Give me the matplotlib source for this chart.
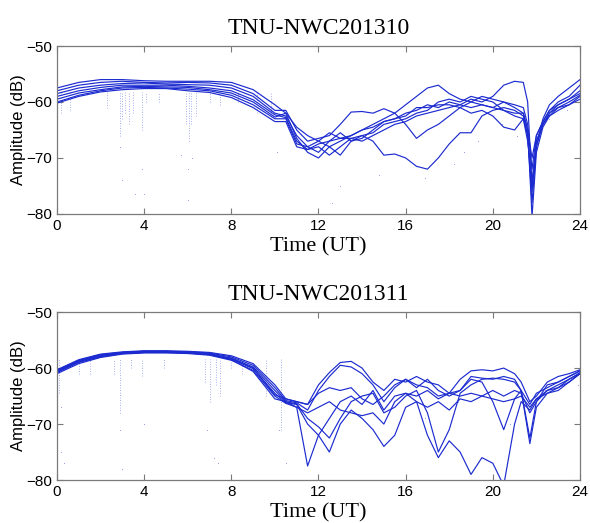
import matplotlib
matplotlib.use("Agg")
import matplotlib.pyplot as plt

# ---------------- data ----------------
# time grid shared by the curves of the upper panel (hours UT)
t_oct = [0, 1, 2, 3, 4, 5, 6, 7, 8, 9, 10,
         10.5, 11, 11.5, 12, 12.5, 13, 13.5, 14, 14.5, 15, 15.5, 16, 16.5,
         17, 17.5, 18, 18.5, 19, 19.5, 20, 20.5, 21,
         21.4, 21.6, 21.8, 22, 22.3, 22.6, 23, 23.5, 24]

oct_1 = [-57.5, -56.5, -56, -56, -56.2, -56.3, -56.3, -56.3, -56.5, -57.8, -60.5,
         -62, -64.5, -66, -67, -65.5, -66.5, -66, -65, -64.5, -63.5, -63, -62, -61.5,
         -60.5, -61, -60, -60.5, -59.5, -60, -59, -57, -56.3,
         -56.5, -60, -75, -68, -63, -60.5, -59, -57.5, -56]
oct_2 = [-58, -57, -56.5, -56.3, -56.5, -56.6, -56.5, -56.6, -57, -58.5, -61.5,
         -61.5, -65, -67, -66.5, -66, -64, -61.8, -61.7, -62, -61.2, -62, -64, -66.5,
         -65, -64, -62.5, -61, -60, -59, -59.5, -60, -61,
         -62, -65, -70, -66, -63.5, -61.5, -60, -59, -57]
oct_3 = [-58.5, -57.5, -57, -56.7, -56.6, -56.8, -56.9, -57, -57.5, -59, -62,
         -62.5, -66, -68, -67, -68, -67, -66, -65, -64, -63, -62, -60.5, -59,
         -57.5, -57, -58.5, -59.5, -60, -60.5, -61, -60, -60.5,
         -61, -64, -72, -66, -63.5, -61.5, -60.5, -59.5, -58]
oct_4 = [-59, -58, -57.4, -57, -57, -57, -57.2, -57.5, -58, -59.6, -62.3,
         -62.8, -67, -68.5, -67.5, -67, -66.5, -66.5, -66, -67, -69.5, -69.3, -70, -71.5,
         -72, -70, -67.5, -65.5, -65.5, -62.5, -61.5, -61, -61.5,
         -62.5, -66, -76, -67, -64, -62, -60.5, -59.5, -58.5]
oct_5 = [-59.5, -58.4, -57.8, -57.3, -57.2, -57.3, -57.4, -57.8, -58.4, -60, -62.7,
         -62, -66.5, -69, -70, -68, -69.5, -67, -66.5, -65, -63.5, -63, -62.5, -61,
         -61, -60.5, -60.5, -61, -62, -61.5, -62.5, -64.5, -65,
         -63, -66, -78, -68, -64, -62, -61, -60, -58.8]
oct_6 = [-60, -58.8, -58, -57.5, -57.4, -57.5, -57.7, -58, -58.8, -60.5, -63,
         -63, -67.5, -68, -69, -67, -65.5, -67, -66, -65.5, -64, -63.5, -63, -62,
         -61.5, -60, -59.5, -60, -59, -59.5, -60, -61.5, -62,
         -62, -65, -80.5, -69, -64.5, -62.5, -61, -60.5, -59]
oct_7 = [-60.2, -59, -58.2, -57.8, -57.6, -57.6, -58, -58.3, -59.2, -61, -63.5,
         -63.5, -68, -68.5, -68, -69.5, -68, -66.5, -67, -66, -65, -64, -63.5, -62.5,
         -62, -61.5, -61, -60.5, -61, -60.5, -61, -61.5, -62.5,
         -63, -67, -74, -67, -64, -62.5, -61.5, -60.5, -59.5]

# signal drop-outs: time, lowest value of the dotted streak
oct_drop_t = [0.2, 0.6, 2.3, 2.9, 3.0, 3.1, 3.3, 3.5, 3.9, 4.1, 4.7,
              5.9, 6.05, 6.15, 6.4, 7.0, 7.5, 8.3, 9.2, 9.8]
oct_drop_v = [-62, -61.5, -61, -66, -63, -62, -64, -62, -65, -60, -60,
              -64, -67, -64, -62.5, -60, -60.5, -60, -62, -63]
oct_dot_t = [2.9, 3.0, 3.6, 3.9, 4.0, 5.7, 6.0, 6.0, 6.2, 10.1, 12.6, 13.0,
             14.8, 16.9, 18.2, 18.7, 19.3, 20.4, 21.1, 22.6, 23.4]
oct_dot_v = [-68, -74, -76.5, -72, -76.5, -69.5, -72, -77.5, -70, -69, -78, -75,
             -73, -73.5, -71, -69, -67, -64, -66, -63, -61.5]

# lower panel
t_nov = [0, 1, 2, 3, 4, 5, 6, 7, 8, 9, 10,
         10.5, 11, 11.5, 12, 12.5, 13, 13.5, 14, 14.5, 15, 15.5, 16, 16.5,
         17, 17.5, 18, 18.5, 19, 19.5, 20, 20.5, 21,
         21.3, 21.7, 22, 22.5, 23, 23.5, 24]

nov_1 = [-60.3, -58.5, -57.5, -57.1, -56.9, -56.9, -57, -57.2, -57.8, -59.2, -63,
         -65.5, -66, -66.5, -63, -60.8, -59, -58.8, -60, -62.5, -64, -62, -62.5, -61.5,
         -62.5, -63, -64.5, -62, -60.5, -60.3, -60.5, -60, -61,
         -62.5, -66, -65, -62.5, -61.5, -61, -60.3]
nov_2 = [-60.5, -58.7, -57.7, -57.2, -57, -57, -57.1, -57.3, -58, -59.5, -63.5,
         -65.8, -66.2, -67.5, -64, -61.5, -59.5, -59.8, -61, -63, -66, -63.5, -62, -63.5,
         -62, -64, -65, -64, -61.5, -61.8, -62, -61.5, -62,
         -64, -72.5, -66, -63, -62.5, -61.5, -60.5]
nov_3 = [-60.6, -58.8, -57.8, -57.3, -57.1, -57.1, -57.2, -57.5, -58.2, -59.8, -64,
         -66, -67, -77.5, -72, -69, -66, -65, -66.5, -64, -67.5, -65, -64.5, -65,
         -64, -65.5, -64.5, -65, -64.5, -65, -64, -65, -64,
         -64.5, -68, -66, -64, -63, -62, -60.8]
nov_4 = [-60.8, -59, -58, -57.4, -57.2, -57.2, -57.3, -57.6, -58.4, -60.1, -64.5,
         -66.2, -66.5, -70, -72, -75, -70, -67.5, -69, -71, -74, -72, -67, -66,
         -67, -66, -67.5, -65.5, -66, -65, -65.5, -66, -65.5,
         -65, -67, -65.5, -64.5, -64, -62.5, -61]
nov_5 = [-61, -59.2, -58.1, -57.5, -57.3, -57.3, -57.4, -57.7, -58.6, -60.4, -65,
         -66.3, -67, -68, -67, -66, -67.5, -68, -68.5, -68, -70, -66, -64.5, -66,
         -72, -76, -73, -75, -79, -76, -77, -81, -70,
         -66, -67.5, -65.5, -64, -63.5, -62, -61]
nov_6 = [-60.4, -58.6, -57.6, -57.2, -57, -57, -57.2, -57.4, -58.3, -60, -64.8,
         -65.5, -66, -66.5, -64.5, -63.5, -64, -63.5, -65.5, -66.5, -65, -63, -62, -63,
         -63.5, -65, -64.5, -64, -62, -62.5, -66, -71, -65.5,
         -64, -66.5, -64.5, -63.5, -62.5, -61.5, -60.5]
nov_7 = [-60.7, -58.9, -57.9, -57.4, -57.2, -57.1, -57.3, -57.6, -58.5, -60.6, -65.5,
         -66, -66.4, -69, -70.5, -72.5, -69, -66, -65, -64.5, -68, -67, -65, -64,
         -68, -75, -71, -64.5, -63, -62, -61.8, -62, -62.5,
         -64, -73.5, -67, -64.5, -63.5, -62.5, -61]

nov_drop_t = [0.1, 1.0, 1.5, 2.6, 2.9, 3.4, 3.9, 4.9, 6.8, 7.0, 7.3, 7.5, 8.0, 8.5, 9.6, 10.3]
nov_drop_v = [-64.5, -61, -61, -61, -68, -60, -61.5, -60, -62.5, -66, -63, -65, -60, -61, -65, -71]
nov_dot_t = [0.2, 0.2, 0.3, 2.9, 3.0, 4.0, 6.9, 7.2, 7.4, 10.2, 10.5,
             13.9, 16.9, 18.4, 20.8, 22.4, 23.5, 23.9]
nov_dot_v = [-67, -75, -77, -71, -78, -70, -71, -76, -77, -71, -77,
             -68.5, -69, -66, -70, -64, -62.5, -63]

titles = ["TNU-NWC201310", "TNU-NWC201311"]
x_ticks = [0, 4, 8, 12, 16, 20, 24]
y_ticks = [-50, -60, -70, -80]

# ---------------- figure ----------------
line_col = "#1c2bd0"
frame_col = "#7a7a7a"

fig = plt.figure(figsize=(5.9, 5.23), dpi=100)
ax_top = fig.add_axes([0.0966, 0.591, 0.8864, 0.321])
ax_bot = fig.add_axes([0.0966, 0.0822, 0.8864, 0.321])

panels = [
    (ax_top, t_oct, [oct_1, oct_2, oct_3, oct_4, oct_5, oct_6, oct_7],
     oct_drop_t, oct_drop_v, oct_dot_t, oct_dot_v, titles[0]),
    (ax_bot, t_nov, [nov_1, nov_2, nov_3, nov_4, nov_5, nov_6, nov_7],
     nov_drop_t, nov_drop_v, nov_dot_t, nov_dot_v, titles[1]),
]

for ax, t, curves, dt, dv, pt, pv, title in panels:
    # faint dotted drop-out streaks under the daytime curves
    ax.vlines(dt, dv, -58.3, colors=line_col, linestyles=(0, (1, 2)),
              linewidth=0.6, alpha=0.5)
    ax.plot(pt, pv, linestyle="none", marker=".", markersize=1.2,
            markeredgewidth=0, color=line_col, alpha=0.45)
    for v in curves:
        ax.plot(t, v, color=line_col, linewidth=0.85)

    ax.set_xlim(0, 24)
    ax.set_ylim(-80, -50)
    ax.set_xticks(x_ticks)
    ax.set_yticks(y_ticks)
    ax.tick_params(direction="in", length=4, width=0.8, color=frame_col,
                   top=True, right=True, labelsize=11, pad=3.5)
    for lab in ax.get_xticklabels() + ax.get_yticklabels():
        lab.set_fontfamily("Liberation Sans")
    for sp in ax.spines.values():
        sp.set_color(frame_col)
        sp.set_linewidth(0.9)

    ax.set_title(title, fontfamily="Liberation Serif", fontsize=17, pad=9)
    ax.set_xlabel("Time (UT)", fontfamily="Liberation Serif", fontsize=16,
                  labelpad=3)
    ax.set_ylabel("Amplitude (dB)", fontfamily="Liberation Sans", fontsize=12,
                  labelpad=0)

fig.savefig("out.png", dpi=100)
